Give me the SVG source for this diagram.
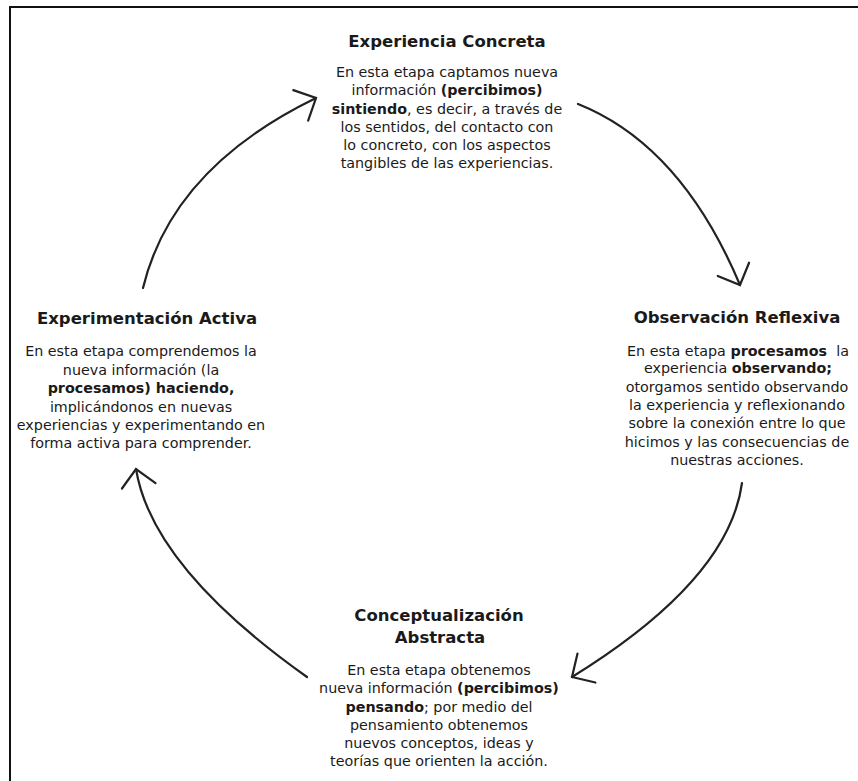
<svg xmlns="http://www.w3.org/2000/svg" width="858" height="781" viewBox="0 0 858 781">
  <style>
    .title { font-family: "DejaVu Sans", "Liberation Sans", sans-serif; font-size: 16.5px; font-weight: bold; fill: #1a1a1a; text-anchor: middle; }
    .body { font-family: "DejaVu Sans", "Liberation Sans", sans-serif; font-size: 14.3px; fill: #1a1a1a; text-anchor: middle; }
    .b { font-weight: bold; }
    .conn { fill: none; stroke: #222; stroke-width: 2.2; stroke-linecap: round; }
  </style>
  <defs>
    <marker id="arrow" markerUnits="userSpaceOnUse" markerWidth="40" markerHeight="40" refX="0" refY="0" orient="auto" overflow="visible" viewBox="-20 -20 40 40">
      <path d="M-17,-17 L0,0 L-17,17" fill="none" stroke="#222" stroke-width="2.2" stroke-linecap="round" stroke-linejoin="miter"/>
    </marker>
  </defs>
  <rect x="0" y="0" width="858" height="781" fill="#ffffff"/>
  <rect x="10" y="7" width="870" height="800" fill="none" stroke="#111" stroke-width="2"/>

  <g id="connectors">
    <path class="conn" d="M143,288 Q172,168 316,98" marker-end="url(#arrow)"/>
    <path class="conn" d="M578,104 Q681,145 740,285" marker-end="url(#arrow)"/>
    <path class="conn" d="M742,483 Q729,580 572,677" marker-end="url(#arrow)"/>
    <path class="conn" d="M307,677 Q152,567 136,469" marker-end="url(#arrow)"/>
  </g>

  <g id="node-experiencia-concreta">
    <text class="title" x="447" y="47">Experiencia Concreta</text>
    <text class="body" x="447" y="77">En esta etapa captamos nueva</text>
    <text class="body" x="447" y="95">información <tspan class="b">(percibimos)</tspan></text>
    <text class="body" x="447" y="114"><tspan class="b">sintiendo</tspan>, es decir, a través de</text>
    <text class="body" x="447" y="132">los sentidos, del contacto con</text>
    <text class="body" x="447" y="150">lo concreto, con los aspectos</text>
    <text class="body" x="447" y="168">tangibles de las experiencias.</text>
  </g>

  <g id="node-observacion-reflexiva">
    <text class="title" x="737" y="323">Observación Reflexiva</text>
    <text class="body" x="738" y="356">En esta etapa <tspan class="b">procesamos</tspan>&#160; la</text>
    <text class="body" x="738" y="373">experiencia <tspan class="b">observando;</tspan></text>
    <text class="body" x="737" y="392">otorgamos sentido observando</text>
    <text class="body" x="737" y="410">la experiencia y reflexionando</text>
    <text class="body" x="737" y="428">sobre la conexión entre lo que</text>
    <text class="body" x="737" y="447">hicimos y las consecuencias de</text>
    <text class="body" x="737" y="465">nuestras acciones.</text>
  </g>

  <g id="node-conceptualizacion-abstracta">
    <text class="title" x="439" y="621">Conceptualización</text>
    <text class="title" x="440" y="643">Abstracta</text>
    <text class="body" x="439" y="675">En esta etapa obtenemos</text>
    <text class="body" x="439" y="693">nueva información <tspan class="b">(percibimos)</tspan></text>
    <text class="body" x="439" y="712"><tspan class="b">pensando</tspan>; por medio del</text>
    <text class="body" x="439" y="730">pensamiento obtenemos</text>
    <text class="body" x="439" y="748">nuevos conceptos, ideas y</text>
    <text class="body" x="439" y="766">teorías que orienten la acción.</text>
  </g>

  <g id="node-experimentacion-activa">
    <text class="title" x="147" y="324">Experimentación Activa</text>
    <text class="body" x="141" y="356">En esta etapa comprendemos la</text>
    <text class="body" x="141" y="375">nueva información (la</text>
    <text class="body" x="141" y="393"><tspan class="b">procesamos) haciendo,</tspan></text>
    <text class="body" x="141" y="412">implicándonos en nuevas</text>
    <text class="body" x="141" y="430">experiencias y experimentando en</text>
    <text class="body" x="141" y="448">forma activa para comprender.</text>
  </g>
</svg>
